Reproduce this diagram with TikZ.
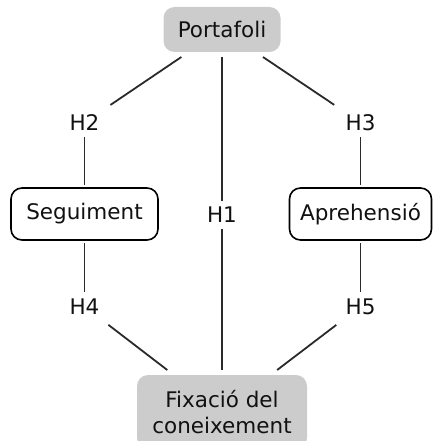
\documentclass[tikz,border=0pt]{standalone}
\usepackage{fontspec}
\setmainfont{DejaVu Sans}
\definecolor{boxgray}{HTML}{CCCCCC}
\definecolor{linegray}{HTML}{2A2A2A}
\definecolor{txt}{HTML}{111111}
\begin{document}
\begin{tikzpicture}[x=1pt,y=-1pt,
  every node/.style={font=\fontsize{21.5}{26}\selectfont, text=txt},
  graybox/.style={rectangle, rounded corners=11pt, fill=boxgray, inner sep=0pt, outer sep=5pt, align=center},
  whitebox/.style={rectangle, rounded corners=11pt, draw=black, line width=1.6pt, fill=white, inner sep=0pt, outer sep=3pt},
  hyp/.style={inner xsep=8pt, inner ysep=6pt},
  conn/.style={draw=linegray, line width=1.8pt}]
\useasboundingbox (0,0) rectangle (432,441);
\node[graybox, minimum width=117pt, minimum height=45pt] (port) at (222,29.5) {Portafoli};
\node[whitebox, minimum width=147pt, minimum height=52pt] (seg) at (84.5,214) {Seguiment};
\node[whitebox, minimum width=142pt, minimum height=52pt] (apre) at (360.5,214) {Aprehensió};
\node[graybox, minimum width=170pt, minimum height=74pt] (fix) at (222,412) {Fixació del\\coneixement};
\node[hyp] (h2) at (84.5,122.5) {H2};
\node[hyp] (h3) at (360.5,122.5) {H3};
\node[hyp] (h1) at (222,215) {H1};
\node[hyp] (h4) at (84.5,306.5) {H4};
\node[hyp] (h5) at (360.5,306.5) {H5};
\draw[conn, shorten >=6pt] (port) -- (h2);
\draw[conn, shorten >=6pt] (port) -- (h3);
\draw[conn] (port) -- (h1);
\draw[conn] (h1) -- (fix);
\draw[conn] (h2) -- (seg);
\draw[conn] (h3) -- (apre);
\draw[conn] (seg) -- (h4);
\draw[conn] (apre) -- (h5);
\draw[conn, shorten <=7pt] (h4) -- (fix);
\draw[conn, shorten <=7pt] (h5) -- (fix);
\end{tikzpicture}
\end{document}
